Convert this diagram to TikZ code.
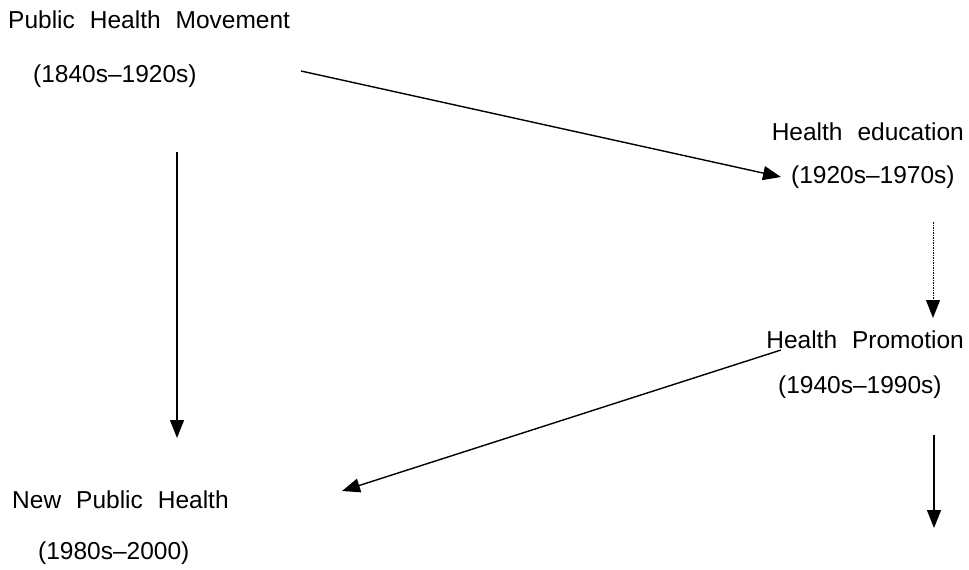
\documentclass[tikz,border=0pt]{standalone}
\usepackage{fontspec}
\setmainfont[WordSpace=2.2]{Liberation Sans}
\usetikzlibrary{arrows.meta}

\begin{document}
\begin{tikzpicture}[x=1pt,y=-1pt,
  every node/.style={anchor=west,inner sep=0pt,font=\fontsize{24.5}{29}\selectfont},
  flow/.style={line width=1.4pt,-{Triangle[length=18pt,width=14pt]}},
  weak/.style={flow,line width=1pt,dash pattern=on 1.5pt off 1pt}]
\useasboundingbox (0,0) rectangle (969,570);
\draw (8,20) node (PHM) {Public Health Movement};
\draw (33,76) node (PHMy) {(1840s–1920s)};
\draw (964,132) node[anchor=east] (HE) {Health education};
\draw (791,177) node (HEy) {(1920s–1970s)};
\draw (964,340) node[anchor=east] (HP) {Health Promotion};
\draw (778,387) node (HPy) {(1940s–1990s)};
\draw (12,500) node (NPH) {New Public Health};
\draw (38,553) node (NPHy) {(1980s–2000)};

\coordinate (a1) at (301,71);
\coordinate (a2) at (781,177);
\coordinate (b1) at (933,222);
\coordinate (b2) at (933,318);
\coordinate (c1) at (781,350);
\coordinate (c2) at (342,491);
\coordinate (d1) at (177,152);
\coordinate (d2) at (177,438);
\coordinate (e1) at (934,435);
\coordinate (e2) at (934,528);

\draw[flow] (a1) -- (a2);
\draw[weak] (b1) -- (b2);
\draw[flow] (c1) -- (c2);
\draw[flow] (d1) -- (d2);
\draw[flow] (e1) -- (e2);
\end{tikzpicture}
\end{document}
